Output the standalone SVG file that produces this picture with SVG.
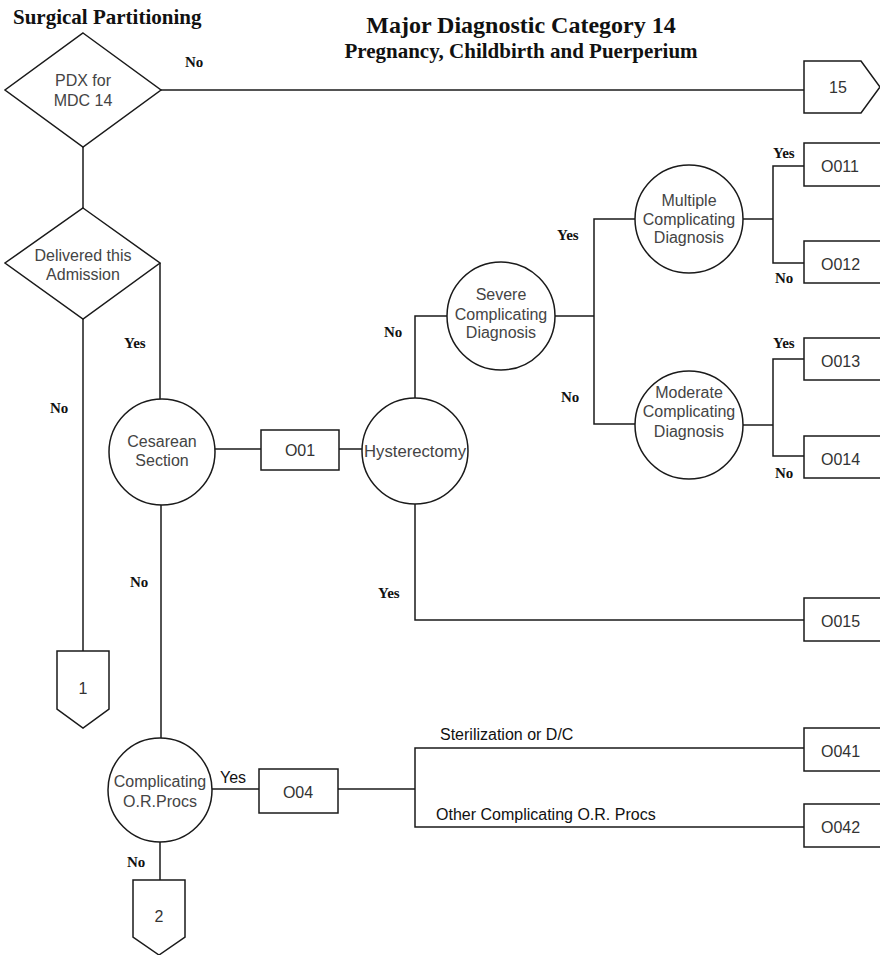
<svg xmlns="http://www.w3.org/2000/svg" width="880" height="955" viewBox="0 0 880 955">
  <style>
    .shape { fill: #fff; stroke: #1a1a1a; stroke-width: 1.5; }
    .wire { fill: none; stroke: #1a1a1a; stroke-width: 1.5; }
    .node { font-family: "Liberation Sans", Arial, sans-serif; font-size: 16px; fill: #444; text-anchor: middle; }
    .code { font-family: "Liberation Sans", Arial, sans-serif; font-size: 16px; fill: #333; }
    .branch { font-family: "Liberation Serif", "Times New Roman", serif; font-size: 15px; font-weight: bold; fill: #111; }
    .note { font-family: "Liberation Sans", Arial, sans-serif; font-size: 16px; fill: #111; }
    .title { font-family: "Liberation Serif", "Times New Roman", serif; font-weight: bold; fill: #111; }
  </style>

  <rect width="880" height="955" fill="#fff"/>

  <!-- headings -->
  <text class="title" x="13" y="24" font-size="21">Surgical Partitioning</text>
  <text class="title" x="521" y="33" font-size="24" text-anchor="middle">Major Diagnostic Category 14</text>
  <text class="title" x="521" y="58" font-size="21" text-anchor="middle">Pregnancy, Childbirth and Puerperium</text>

  <!-- connectors -->
  <g id="connectors" class="wire">
    <path d="M161,90 H804"/>
    <path d="M83,147 V208"/>
    <path d="M160,263 V399"/>
    <path d="M83,319 V651"/>
    <path d="M215,449 H261"/>
    <path d="M339,449 H362"/>
    <path d="M415,398 V316 H447"/>
    <path d="M555,316 H594"/>
    <path d="M635,219 H594 V424 H635"/>
    <path d="M743,219 H773"/>
    <path d="M804,166 H773 V263 H804"/>
    <path d="M743,425 H773"/>
    <path d="M804,359 H773 V456 H804"/>
    <path d="M415,504 V620 H804"/>
    <path d="M161,505 V738"/>
    <path d="M212,789 H259"/>
    <path d="M338,789 H415"/>
    <path d="M804,748 H415 V827 H804"/>
    <path d="M160,842 V880"/>
  </g>

  <!-- branch labels -->
  <g id="labels">
    <text class="branch" x="185" y="67">No</text>
    <text class="branch" x="124" y="348">Yes</text>
    <text class="branch" x="50" y="413">No</text>
    <text class="branch" x="384" y="337">No</text>
    <text class="branch" x="557" y="240">Yes</text>
    <text class="branch" x="561" y="402">No</text>
    <text class="branch" x="773" y="158">Yes</text>
    <text class="branch" x="775" y="283">No</text>
    <text class="branch" x="773" y="348">Yes</text>
    <text class="branch" x="775" y="478">No</text>
    <text class="branch" x="378" y="598">Yes</text>
    <text class="branch" x="130" y="587">No</text>
    <text class="branch" x="127" y="867">No</text>
    <text class="note" x="220" y="783" font-size="15">Yes</text>
    <text class="note" x="440" y="740">Sterilization or D/C</text>
    <text class="note" x="436" y="820">Other Complicating O.R. Procs</text>
  </g>

  <!-- decision diamonds -->
  <g id="pdx-mdc14">
    <polygon class="shape" points="83,33 161,90 83,147 5,90"/>
    <text class="node" x="83" y="86">PDX for</text>
    <text class="node" x="83" y="106">MDC 14</text>
  </g>
  <g id="delivered">
    <polygon class="shape" points="83,208 160,263 83,319 5,263"/>
    <text class="node" x="83" y="261">Delivered this</text>
    <text class="node" x="83" y="280">Admission</text>
  </g>

  <!-- decision circles -->
  <g id="cesarean">
    <circle class="shape" cx="162" cy="452" r="53"/>
    <text class="node" x="162" y="447">Cesarean</text>
    <text class="node" x="162" y="466">Section</text>
  </g>
  <g id="hysterectomy">
    <circle class="shape" cx="415" cy="451" r="53"/>
    <text class="node" x="415" y="457" textLength="102" lengthAdjust="spacingAndGlyphs">Hysterectomy</text>
  </g>
  <g id="severe">
    <circle class="shape" cx="501" cy="316" r="54"/>
    <text class="node" x="501" y="300">Severe</text>
    <text class="node" x="501" y="320">Complicating</text>
    <text class="node" x="501" y="338">Diagnosis</text>
  </g>
  <g id="multiple">
    <circle class="shape" cx="689" cy="219" r="54"/>
    <text class="node" x="689" y="206">Multiple</text>
    <text class="node" x="689" y="225">Complicating</text>
    <text class="node" x="689" y="243">Diagnosis</text>
  </g>
  <g id="moderate">
    <circle class="shape" cx="689" cy="425" r="54"/>
    <text class="node" x="689" y="398">Moderate</text>
    <text class="node" x="689" y="417">Complicating</text>
    <text class="node" x="689" y="437">Diagnosis</text>
  </g>
  <g id="complicating-or">
    <circle class="shape" cx="160" cy="790" r="52"/>
    <text class="node" x="160" y="787">Complicating</text>
    <text class="node" x="160" y="807">O.R.Procs</text>
  </g>

  <!-- DRG boxes -->
  <g id="o01">
    <rect class="shape" x="261" y="430" width="78" height="40"/>
    <text class="code" x="300" y="456" text-anchor="middle">O01</text>
  </g>
  <g id="o04">
    <rect class="shape" x="259" y="769" width="79" height="44"/>
    <text class="code" x="298" y="798" text-anchor="middle">O04</text>
  </g>
  <g id="o011">
    <rect class="shape" x="804" y="143" width="90" height="43"/>
    <text class="code" x="821" y="172">O011</text>
  </g>
  <g id="o012">
    <rect class="shape" x="804" y="241" width="90" height="42"/>
    <text class="code" x="821" y="270">O012</text>
  </g>
  <g id="o013">
    <rect class="shape" x="804" y="338" width="90" height="42"/>
    <text class="code" x="821" y="367">O013</text>
  </g>
  <g id="o014">
    <rect class="shape" x="804" y="436" width="90" height="42"/>
    <text class="code" x="821" y="465">O014</text>
  </g>
  <g id="o015">
    <rect class="shape" x="804" y="598" width="90" height="43"/>
    <text class="code" x="821" y="627">O015</text>
  </g>
  <g id="o041">
    <rect class="shape" x="804" y="728" width="90" height="43"/>
    <text class="code" x="821" y="757">O041</text>
  </g>
  <g id="o042">
    <rect class="shape" x="804" y="804" width="90" height="43"/>
    <text class="code" x="821" y="833">O042</text>
  </g>

  <!-- off-page connectors -->
  <g id="to-15">
    <polygon class="shape" points="804,61 861,61 880,87 861,113 804,113"/>
    <text class="code" x="838" y="93" text-anchor="middle">15</text>
  </g>
  <g id="to-1">
    <polygon class="shape" points="57,651 109,651 109,709 83,728 57,709"/>
    <text class="code" x="83" y="694" text-anchor="middle">1</text>
  </g>
  <g id="to-2">
    <polygon class="shape" points="133,880 185,880 185,937 159,955 133,937"/>
    <text class="code" x="159" y="922" text-anchor="middle">2</text>
  </g>
</svg>
